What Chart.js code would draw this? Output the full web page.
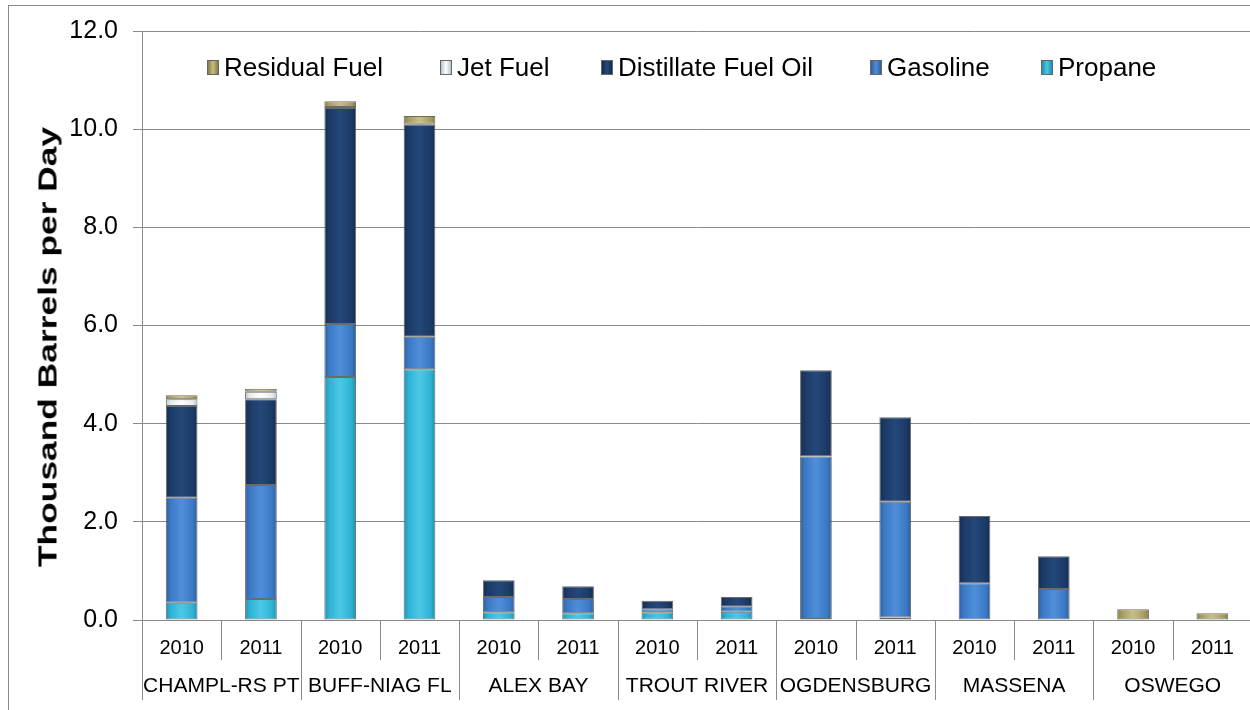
<!DOCTYPE html>
<html>
<head>
<meta charset="utf-8">
<script src="https://cdn.jsdelivr.net/npm/chart.js@4"></script>
<style>
  html, body { margin: 0; padding: 0; background: #fff; overflow: hidden; }
  #frame { position: absolute; left: 8px; top: 5px; width: 1400px; height: 800px; border: 1px solid #8a8a8a; }
  #wrap { position: absolute; left: 0; top: 0; width: 1252px; height: 710px; }
  #legend { position: absolute; left: 0; top: 52px; width: 1250px; height: 32px;
    font-family: "Liberation Sans", Arial, sans-serif; font-size: 26px; color: #000; }
  .item { position: absolute; top: 0; display: flex; align-items: center; white-space: nowrap; }
  .box { width: 12px; height: 15px; margin-right: 5px; border: 1px solid #666; box-sizing: border-box; }
  #ytitle { position: absolute; left: 48px; top: 347px; white-space: nowrap;
    font-family: "Liberation Sans", Arial, sans-serif; font-weight: bold; font-size: 26px; color: #000;
    transform: translate(-50%, -50%) rotate(-90deg) scaleX(1.36); }
</style>
</head>
<body>
<div id="frame"></div>
<div id="wrap"><canvas id="chart"></canvas></div>
<div id="legend"></div>
<div id="ytitle">Thousand Barrels per Day</div>
<script>
const years = ["2010", "2011", "2010", "2011", "2010", "2011", "2010", "2011", "2010", "2011", "2010", "2011", "2010", "2011"];
const ports = ["CHAMPL-RS PT", "BUFF-NIAG FL", "ALEX BAY", "TROUT RIVER", "OGDENSBURG", "MASSENA", "OSWEGO"];

const propane    = [0.35, 0.43, 4.95, 5.11, 0.16, 0.14, 0.16, 0.17, 0.02, 0.05, 0, 0, 0, 0];
const gasoline   = [2.14, 2.32, 1.08, 0.66, 0.31, 0.29, 0.06, 0.10, 3.31, 2.36, 0.75, 0.63, 0, 0];
const distillate = [1.87, 1.75, 4.40, 4.32, 0.34, 0.26, 0.17, 0.20, 1.76, 1.72, 1.37, 0.67, 0, 0];
const jetFuel    = [0.14, 0.15, 0.02, 0.02, 0, 0, 0, 0, 0, 0, 0, 0, 0, 0];
const residual   = [0.08, 0.06, 0.12, 0.16, 0, 0, 0, 0, 0, 0, 0, 0, 0.22, 0.14];

const yTicks = [0, 2, 4, 6, 8, 10, 12];

// colours: edge (dark side), body, light (centre highlight)
const palette = {
  propane:    { edge: "#1f8fae", body: "#2fb2d4", light: "#4cc8e6" },
  gasoline:   { edge: "#2c5f9e", body: "#3b79c5", light: "#4f8ed8" },
  distillate: { edge: "#142c4f", body: "#1c3a66", light: "#24487a" },
  jet:        { edge: "#b8c2cc", body: "#e6ebf0", light: "#ffffff" },
  residual:   { edge: "#857c45", body: "#a59c60", light: "#c9bf84" }
};

const FONT = "'Liberation Sans', Arial, sans-serif";

function barFill(c) {
  return (ctx) => {
    const chart = ctx.chart;
    const xs = chart.scales && chart.scales.x;
    if (!xs || ctx.type !== "data") return c.body;
    const cx = xs.getPixelForValue(ctx.dataIndex);
    const half = (xs.width / years.length) * 0.4 / 2;
    if (!isFinite(cx) || !isFinite(half) || half <= 0) return c.body;
    const g = chart.ctx.createLinearGradient(cx - half, 0, cx + half, 0);
    g.addColorStop(0, c.edge);
    g.addColorStop(0.15, c.body);
    g.addColorStop(0.5, c.light);
    g.addColorStop(0.85, c.body);
    g.addColorStop(1, c.edge);
    return g;
  };
}

function makeSet(label, data, c) {
  return {
    label: label,
    data: data,
    backgroundColor: barFill(c),
    borderColor: "rgba(70,70,70,0.8)",
    borderWidth: 1,
    borderSkipped: false,
    barPercentage: 0.4,
    categoryPercentage: 1.0
  };
}

// legend in the same order as the picture
const legendItems = [
  ["Residual Fuel", palette.residual, 207],
  ["Jet Fuel", palette.jet, 440],
  ["Distillate Fuel Oil", palette.distillate, 601],
  ["Gasoline", palette.gasoline, 870],
  ["Propane", palette.propane, 1041]
];
const legendEl = document.getElementById("legend");
legendItems.forEach(([name, c, left]) => {
  const item = document.createElement("div");
  item.className = "item";
  item.style.left = left + "px";
  const box = document.createElement("span");
  box.className = "box";
  box.style.background = `linear-gradient(to right, ${c.edge}, ${c.light} 50%, ${c.edge})`;
  const txt = document.createElement("span");
  txt.textContent = name;
  item.appendChild(box);
  item.appendChild(txt);
  legendEl.appendChild(item);
});

// vertical separators below the axis (short between years, long between ports)
const separators = {
  id: "separators",
  afterDraw(chart) {
    const xs = chart.scales.x;
    const ctx = chart.ctx;
    const base = chart.chartArea.bottom;
    ctx.save();
    ctx.strokeStyle = "#8a8a8a";
    ctx.lineWidth = 1;
    for (let i = 0; i <= years.length; i++) {
      let x;
      if (i === 0) x = chart.chartArea.left;
      else if (i === years.length) x = chart.chartArea.right;
      else x = (xs.getPixelForValue(i - 1) + xs.getPixelForValue(i)) / 2;
      x = Math.round(x) + 0.5;
      const end = i % 2 === 0 ? 700 : 660;
      ctx.beginPath();
      ctx.moveTo(x, base);
      ctx.lineTo(x, end);
      ctx.stroke();
    }
    ctx.restore();
  }
};

new Chart(document.getElementById("chart"), {
  type: "bar",
  data: {
    labels: years,
    datasets: [
      makeSet("Propane", propane, palette.propane),
      makeSet("Gasoline", gasoline, palette.gasoline),
      makeSet("Distillate Fuel Oil", distillate, palette.distillate),
      makeSet("Jet Fuel", jetFuel, palette.jet),
      makeSet("Residual Fuel", residual, palette.residual)
    ]
  },
  options: {
    responsive: true,
    maintainAspectRatio: false,
    animation: false,
    layout: { padding: { left: 30, top: 31, right: 0, bottom: 10 } },
    plugins: {
      legend: { display: false },
      tooltip: { enabled: false }
    },
    scales: {
      x: {
        stacked: true,
        position: "bottom",
        grid: { display: false, drawTicks: false },
        border: { display: true, color: "#8a8a8a", width: 1 },
        ticks: { font: { family: FONT, size: 20 }, color: "#000", padding: 16, maxRotation: 0, autoSkip: false },
        afterFit(scale) { scale.height = 40; }
      },
      x2: {
        type: "category",
        labels: ports,
        position: "bottom",
        grid: { display: false, drawTicks: false },
        border: { display: false },
        ticks: { font: { family: FONT, size: 21 }, color: "#000", padding: 14, maxRotation: 0, autoSkip: false },
        afterFit(scale) { scale.height = 40; }
      },
      y: {
        stacked: true,
        min: 0,
        max: 12,
        afterBuildTicks(scale) { scale.ticks = yTicks.map(v => ({ value: v })); },
        grid: { color: "#8a8a8a", lineWidth: 1, tickLength: 9 },
        border: { display: true, color: "#8a8a8a", width: 1 },
        ticks: {
          font: { family: FONT, size: 25 },
          color: "#000",
          padding: 15,
          callback: (v) => Number(v).toFixed(1)
        },
        afterFit(scale) { scale.width = 112; }
      }
    }
  },
  plugins: [separators]
});
</script>
</body>
</html>
